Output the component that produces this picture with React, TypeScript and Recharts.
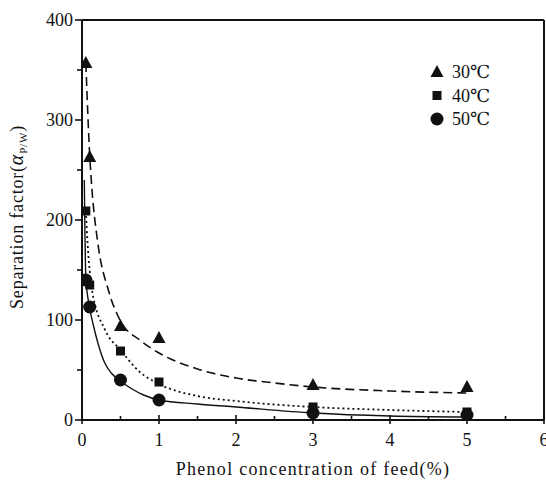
import { ComposedChart, Line, Scatter, XAxis, YAxis, ReferenceLine } from 'recharts'

// measured points
const pts30 = [
  { x: 0.05, y: 357 },
  { x: 0.1, y: 263 },
  { x: 0.5, y: 94 },
  { x: 1, y: 82 },
  { x: 3, y: 35 },
  { x: 5, y: 33 },
]
const pts40 = [
  { x: 0.05, y: 209 },
  { x: 0.1, y: 135 },
  { x: 0.5, y: 69 },
  { x: 1, y: 38 },
  { x: 3, y: 13 },
  { x: 5, y: 8 },
]
const pts50 = [
  { x: 0.05, y: 140 },
  { x: 0.1, y: 113 },
  { x: 0.5, y: 40 },
  { x: 1, y: 20 },
  { x: 3, y: 7 },
  { x: 5, y: 5 },
]

// fitted curves
const fit30 = [
  { x: 0.05, y: 357 },
  { x: 0.1, y: 265 },
  { x: 0.13, y: 230 },
  { x: 0.2, y: 180 },
  { x: 0.35, y: 128 },
  { x: 0.5, y: 99 },
  { x: 0.75, y: 80 },
  { x: 1, y: 67 },
  { x: 1.5, y: 51 },
  { x: 2, y: 42 },
  { x: 2.5, y: 37 },
  { x: 3, y: 33 },
  { x: 4, y: 29 },
  { x: 5, y: 27 },
]
const fit40 = [
  { x: 0.05, y: 209 },
  { x: 0.07, y: 180 },
  { x: 0.13, y: 130 },
  { x: 0.3, y: 90 },
  { x: 0.5, y: 70 },
  { x: 0.75, y: 48 },
  { x: 1, y: 36 },
  { x: 1.5, y: 24 },
  { x: 2, y: 19 },
  { x: 3, y: 13 },
  { x: 4, y: 10 },
  { x: 5, y: 8 },
]
const fit50 = [
  { x: 0.03, y: 240 },
  { x: 0.05, y: 142 },
  { x: 0.1, y: 112 },
  { x: 0.15, y: 94 },
  { x: 0.21, y: 76 },
  { x: 0.29, y: 58 },
  { x: 0.38, y: 47 },
  { x: 0.5, y: 39 },
  { x: 0.65, y: 31 },
  { x: 0.8, y: 25 },
  { x: 1, y: 20 },
  { x: 1.5, y: 16 },
  { x: 2, y: 13 },
  { x: 3, y: 7 },
  { x: 4, y: 4 },
  { x: 5, y: 3 },
]

const xTicks = [0, 0.5, 1, 1.5, 2, 2.5, 3, 3.5, 4, 4.5, 5, 5.5, 6]
const yTicks = [0, 50, 100, 150, 200, 250, 300, 350, 400]
const legendItems = [
  { label: '30℃', shape: 'triangle' },
  { label: '40℃', shape: 'square' },
  { label: '50℃', shape: 'circle' },
]

const font = '"Liberation Serif", "DejaVu Serif", serif'
const ink = '#111'

const Triangle = (p: any) => (
  <polygon points={`${p.cx},${p.cy - 7} ${p.cx - 6.5},${p.cy + 5} ${p.cx + 6.5},${p.cy + 5}`} fill={ink} />
)
const Square = (p: any) => <rect x={p.cx - 4.5} y={p.cy - 4.5} width={9} height={9} fill={ink} />
const Circle = (p: any) => <circle cx={p.cx} cy={p.cy} r={6.5} fill={ink} />

const YTick = ({ x, y, payload }: any) => {
  const major = payload.value % 100 === 0
  return (
    <g>
      <line x1={x - (major ? 7 : 5)} x2={x} y1={y} y2={y} stroke={ink} strokeWidth={1.6} />
      {major && (
        <text x={x - 9} y={y + 6} textAnchor="end" fontSize={18} fontFamily={font} fill={ink}>
          {payload.value}
        </text>
      )}
    </g>
  )
}

const XTick = ({ x, y, payload }: any) => {
  const major = payload.value % 1 === 0
  return (
    <g>
      <line x1={x} x2={x} y1={y - (major ? 5 : 4)} y2={y + (major ? 4 : 1)} stroke={ink} strokeWidth={1.6} />
      {major && (
        <text x={x} y={y + 26} textAnchor="middle" fontSize={18} fontFamily={font} fill={ink}>
          {payload.value}
        </text>
      )}
    </g>
  )
}

export default function App() {
  return (
    <div style={{ position: 'absolute', left: 0, top: 0, width: 546, height: 484, background: '#fff' }}>
      <ComposedChart width={546} height={484} margin={{ top: 20, right: 2, bottom: 0, left: 0 }}>
        <XAxis
          type="number"
          dataKey="x"
          domain={[0, 6]}
          ticks={xTicks}
          interval={0}
          tickSize={0}
          tickMargin={0}
          tick={(props: any) => <XTick {...props} />}
          height={64}
          stroke={ink}
          strokeWidth={2}
          allowDataOverflow
        />
        <YAxis
          type="number"
          dataKey="y"
          domain={[0, 400]}
          ticks={yTicks}
          interval={0}
          tickSize={0}
          tickMargin={0}
          tick={(props: any) => <YTick {...props} />}
          width={82}
          stroke={ink}
          strokeWidth={2}
          allowDataOverflow
        />
        <ReferenceLine y={400} stroke={ink} strokeWidth={2} />
        <ReferenceLine x={6} stroke={ink} strokeWidth={2} />
        <Line data={fit30} dataKey="y" type="monotone" stroke={ink} strokeWidth={1.6} strokeDasharray="9 5" dot={false} legendType="none" isAnimationActive={false} />
        <Line data={fit40} dataKey="y" type="monotone" stroke={ink} strokeWidth={1.8} strokeDasharray="2 3" dot={false} legendType="none" isAnimationActive={false} />
        <Line data={fit50} dataKey="y" type="monotone" stroke={ink} strokeWidth={1.4} dot={false} legendType="none" isAnimationActive={false} />
        <Scatter data={pts30} dataKey="y" shape={Triangle} isAnimationActive={false} />
        <Scatter data={pts40} dataKey="y" shape={Square} isAnimationActive={false} />
        <Scatter data={pts50} dataKey="y" shape={Circle} isAnimationActive={false} />
        <g>
          {legendItems.map((it, i) => {
            const cy = 72 + i * 23.5
            return (
              <g key={it.label}>
                {it.shape === 'triangle' && <Triangle cx={437} cy={cy} />}
                {it.shape === 'square' && <Square cx={437} cy={cy} />}
                {it.shape === 'circle' && <Circle cx={437} cy={cy} />}
                <text x={452} y={cy + 6} fontSize={18} fontFamily={font} fill={ink}>
                  {it.label}
                </text>
              </g>
            )
          })}
        </g>
        <text x={313} y={475} textAnchor="middle" fontSize={18} letterSpacing={1.3} fontFamily={font} fill={ink}>
          Phenol concentration of feed(%)
        </text>
        <text x={23} y={217} transform="rotate(-90 23 217)" textAnchor="middle" fontSize={18} letterSpacing={0.8} fontFamily={font} fill={ink}>
          Separation factor(
          <tspan fontStyle="italic" fontSize={20}>α</tspan>
          <tspan fontSize={11} dy={4}>P/W</tspan>
          <tspan dy={-4}>)</tspan>
        </text>
      </ComposedChart>
    </div>
  )
}
